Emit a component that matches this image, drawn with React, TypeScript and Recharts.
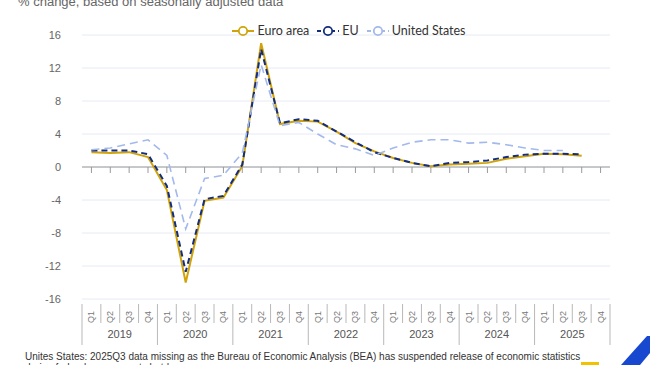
import React from "react";
import {
  ComposedChart,
  Line,
  XAxis,
  YAxis,
  CartesianGrid,
  ReferenceLine,
  Legend,
} from "recharts";

const YEARS = ["2019", "2020", "2021", "2022", "2023", "2024", "2025"];
const QUARTERS = ["Q1", "Q2", "Q3", "Q4"];

// % change, same quarter of previous year
const EURO_AREA = [
  1.8, 1.7, 1.8, 1.2,
  -2.8, -14.0, -4.1, -3.7,
  0.1, 15.0, 5.2, 5.6,
  5.5, 4.3, 2.9, 1.9,
  1.1, 0.5, 0.1, 0.3,
  0.4, 0.5, 1.0, 1.3,
  1.6, 1.55, 1.35, null,
];
const EU = [
  2.0, 2.0, 2.0, 1.55,
  -2.3, -12.7, -3.9, -3.5,
  0.3, 14.3, 5.3, 5.8,
  5.6, 4.3, 3.0, 1.8,
  1.1, 0.5, 0.1, 0.5,
  0.6, 0.8, 1.2, 1.5,
  1.6, 1.6, 1.55, null,
];
const UNITED_STATES = [
  2.1, 2.3, 2.8, 3.3,
  1.4, -7.5, -1.4, -1.0,
  1.7, 12.4, 5.0, 5.4,
  4.0, 2.7, 2.2, 1.4,
  2.3, 3.0, 3.3, 3.3,
  2.9, 3.0, 2.7, 2.3,
  2.0, 2.0, null, null,
];
const Y_TICKS = [-16, -12, -8, -4, 0, 4, 8, 12, 16];

const W = 650;
const H = 365;
const Y_AXIS_W = 82;
const X_AXIS_H = 66;
const MARGIN = { top: 35, right: 40, bottom: 0, left: 0 };
const BAND = (W - MARGIN.right - Y_AXIS_W) / (YEARS.length * QUARTERS.length);

const COLORS = {
  euro: "#d1a30a",
  eu: "#142d7d",
  us: "#a3b9ec",
  zero: "#9a9a9a",
  grid: "#e5eaf3",
  sep: "#b8b8b8",
  tick: "#666666",
};

const data = YEARS.flatMap((year, yi) =>
  QUARTERS.map((q, qi) => {
    const i = yi * 4 + qi;
    return {
      key: `${year}${q}`,
      year,
      quarter: q,
      euro: EURO_AREA[i],
      eu: EU[i],
      us: UNITED_STATES[i],
      base: 0,
    };
  })
);

const SERIES = [
  { key: "euro", name: "Euro area", color: COLORS.euro, dash: undefined, width: 2 },
  { key: "eu", name: "EU", color: COLORS.eu, dash: "6 4", width: 2 },
  { key: "us", name: "United States", color: COLORS.us, dash: "8 5", width: 1.6 },
];

function QuarterTick(props: any) {
  const { x, y, index } = props;
  const row = data[index];
  if (!row) return null;
  const qi = index % 4;
  const left = x - BAND / 2;
  const ly = y + 18;
  return (
    <g>
      <line x1={left} x2={left} y1={y + 5} y2={qi === 0 ? y + 46 : y + 24} stroke={COLORS.sep} />
      {index === data.length - 1 && (
        <line x1={x + BAND / 2} x2={x + BAND / 2} y1={y + 5} y2={y + 46} stroke={COLORS.sep} />
      )}
      <text
        x={x}
        y={ly}
        transform={`rotate(-90 ${x} ${ly})`}
        textAnchor="middle"
        dominantBaseline="central"
        fontSize={9}
        fill="#777"
      >
        {row.quarter}
      </text>
      {qi === 1 && (
        <text
          x={x + BAND / 2}
          y={y + 35}
          textAnchor="middle"
          dominantBaseline="central"
          fontSize={11}
          fill="#555"
        >
          {row.year}
        </text>
      )}
    </g>
  );
}

function ZeroTick(props: any) {
  const { cx, cy, index } = props;
  if (cx == null || cy == null) return <g key={`zt-${index}`} />;
  return (
    <line key={`zt-${index}`} x1={cx} x2={cx} y1={cy} y2={cy + 6} stroke={COLORS.zero} />
  );
}

function LegendContent() {
  return (
    <div
      style={{
        display: "flex",
        justifyContent: "center",
        alignItems: "center",
        gap: 8,
        fontFamily: "Lato, 'Liberation Sans', sans-serif",
        fontSize: 12.5,
        color: "#333",
        lineHeight: "16px",
      }}
    >
      {SERIES.map((s) => (
        <div key={s.key} style={{ display: "flex", alignItems: "center", gap: 3 }}>
          <svg width={22} height={12}>
            <line
              x1={0}
              x2={22}
              y1={6}
              y2={6}
              stroke={s.color}
              strokeWidth={2}
              strokeDasharray={s.dash ? "4 3" : undefined}
            />
            <circle cx={11} cy={6} r={4.2} fill="#fff" stroke={s.color} strokeWidth={1.8} />
          </svg>
          <span>{s.name}</span>
        </div>
      ))}
    </div>
  );
}

export default function App() {
  return (
    <div
      style={{
        position: "absolute",
        left: 0,
        top: 0,
        width: W,
        height: H,
        overflow: "hidden",
        background: "#fff",
        fontFamily: "'Liberation Sans', Arial, sans-serif",
      }}
    >
      <div style={{ position: "absolute", left: 18, top: -6, fontSize: 13, color: "#666", whiteSpace: "nowrap" }}>
        % change, based on seasonally adjusted data
      </div>

      <ComposedChart width={W} height={H} data={data} margin={MARGIN}>
        <CartesianGrid vertical={false} stroke={COLORS.grid} />
        <YAxis
          domain={[-16, 16]}
          ticks={Y_TICKS}
          width={Y_AXIS_W}
          axisLine={false}
          tickLine={false}
          tickSize={0}
          tickMargin={21}
          tick={{ fontSize: 11, fill: COLORS.tick }}
          interval={0}
        />
        <XAxis
          dataKey="key"
          scale="band"
          height={X_AXIS_H}
          axisLine={false}
          tickLine={false}
          tickSize={0}
          tickMargin={0}
          interval={0}
          tick={<QuarterTick />}
        />
        <ReferenceLine y={0} stroke={COLORS.zero} />
        <Line
          dataKey="base"
          stroke="none"
          dot={ZeroTick}
          activeDot={false}
          legendType="none"
          isAnimationActive={false}
        />
        {SERIES.map((s) => (
          <Line
            key={s.key}
            dataKey={s.key}
            name={s.name}
            stroke={s.color}
            strokeWidth={s.width}
            strokeDasharray={s.dash}
            dot={false}
            activeDot={false}
            connectNulls={false}
            isAnimationActive={false}
          />
        ))}
        <Legend
          layout="horizontal"
          verticalAlign="middle"
          content={<LegendContent />}
          wrapperStyle={{ top: 23, left: 85, width: 528 }}
        />
      </ComposedChart>

      <div
        style={{
          position: "absolute",
          left: 25,
          top: 351,
          width: 560,
          fontSize: 10,
          lineHeight: "11px",
          color: "#333",
        }}
      >
        Unites States: 2025Q3 data missing as the Bureau of Economic Analysis (BEA) has suspended release of economic statistics during federal government shutdown
      </div>

      <svg style={{ position: "absolute", left: 0, top: 0 }} width={W} height={H} pointerEvents="none">
        <polygon points="621,365 640,365 650,353 650,336 647,336" fill="#1848cf" />
        <rect x={581} y={362} width={18} height={3} fill="#f2c200" />
      </svg>
    </div>
  );
}
